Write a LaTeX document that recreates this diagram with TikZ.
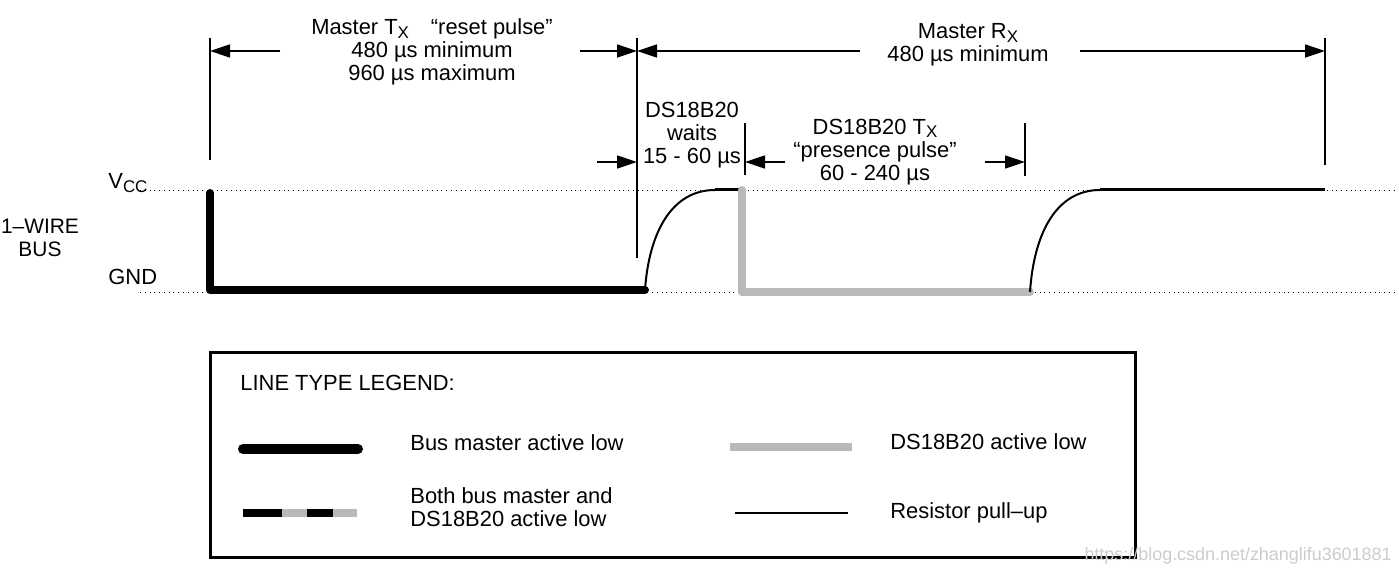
\documentclass[tikz,border=0pt]{standalone}
\usepackage{fontspec}
\setmainfont{Liberation Sans}
\usetikzlibrary{arrows.meta}
\newcommand{\lowsub}[1]{\raisebox{-0.3ex}{\fontsize{8.5}{8.5}\selectfont #1}}

\begin{document}
\begin{tikzpicture}[x=0.5bp, y=-0.5bp,
        lbl/.style={inner sep=0pt, align=center, font=\fontsize{11}{11.5}\selectfont},
        lftlbl/.style={lbl, anchor=west, align=left},
        dimline/.style={line width=0.75bp, -{Triangle[length=10bp,width=6.5bp]}},
        tick/.style={line width=0.75bp},
        level/.style={dotted, line width=0.4bp},
        master/.style={line width=4bp, line cap=round, line join=round},
        slave/.style={line width=4bp, gray!55, line cap=round, line join=round},
        pullup/.style={line width=1bp}
    ]
        \useasboundingbox (0,0) rectangle (1399,575);

        \node[lbl] (txLabel) at (432,52) {Master T\lowsub{X}\quad“reset pulse”\\480 µs minimum\\960 µs maximum};
        \node[lbl] (rxLabel) at (968,45) {Master R\lowsub{X}\\480 µs minimum};
        \node[lbl] (waitLabel) at (692,135) {DS18B20\\waits\\15 - 60 µs};
        \node[lbl] (presLabel) at (875,152) {DS18B20 T\lowsub{X}\\“presence pulse”\\60 - 240 µs};
        \node[lbl, font=\fontsize{10.5}{11.5}\selectfont] (busLabel) at (40,238) {1–WIRE\\BUS};
        \node[lftlbl] (vccLabel) at (108,183) {V\lowsub{CC}};
        \node[lftlbl] (gndLabel) at (108,277) {GND};

        \coordinate (vccLeft) at (140,190);
        \coordinate (vccRight) at (1395,190);
        \coordinate (gndLeft) at (140,292);
        \coordinate (gndRight) at (1395,292);
        \draw[level] (vccLeft) -- (vccRight);
        \draw[level] (gndLeft) -- (gndRight);

        \coordinate (resetTop) at (210,38);
        \coordinate (resetBot) at (210,160);
        \coordinate (releaseTop) at (637,38);
        \coordinate (releaseBot) at (637,258);
        \coordinate (rxEndTop) at (1325,38);
        \coordinate (rxEndBot) at (1325,165);
        \coordinate (presTop) at (745,123);
        \coordinate (presBot) at (745,175);
        \coordinate (presEndTop) at (1025,123);
        \coordinate (presEndBot) at (1025,176);
        \draw[tick] (resetTop) -- (resetBot);
        \draw[tick] (releaseTop) -- (releaseBot);
        \draw[tick] (rxEndTop) -- (rxEndBot);
        \draw[tick] (presTop) -- (presBot);
        \draw[tick] (presEndTop) -- (presEndBot);

        \draw[dimline] (280,51) -- (resetTop |- 0,51);
        \draw[dimline] (580,51) -- (releaseTop |- 0,51);
        \draw[dimline] (860,51) -- (releaseTop |- 0,51);
        \draw[dimline] (1080,51) -- (rxEndTop |- 0,51);
        \draw[dimline] (597,162) -- (releaseTop |- 0,162);
        \draw[dimline] (785,162) -- (presTop |- 0,162);
        \draw[dimline] (985,162) -- (presEndTop |- 0,162);

        \draw[master] (210,193) -- (210,290) -- (645,290);
        \draw[pullup] (645,290) .. controls (649,232) and (672,190) .. (715,190);
        \draw[line width=1.5bp] (715,190) -- (742,190);
        \draw[slave] (742,190) -- (742,292) -- (1030,292);
        \draw[pullup] (1030,292) .. controls (1034,232) and (1057,190) .. (1100,190);
        \draw[line width=1.5bp] (1100,190) -- (1325,190);

        \draw[line width=1.5bp] (210,352) rectangle (1135,557);
        \node[lftlbl] (legTitle) at (240,383) {LINE TYPE LEGEND:};
        \draw[master, line width=5bp] (243,449) -- (358,449);
        \node[lftlbl] (masterLabel) at (410,443) {Bus master active low};
        \draw[slave, line cap=butt] (730,447) -- (852,447);
        \node[lftlbl] (slaveLabel) at (890,442) {DS18B20 active low};
        \draw[slave, line cap=butt] (243,513) -- (357,513);
        \draw[line width=4bp, dash pattern=on 19.5bp off 12.5bp on 13bp off 20bp] (243,513) -- (357,513);
        \node[lftlbl] (bothLabel) at (410,507) {Both bus master and\\DS18B20 active low};
        \draw[pullup] (735,513) -- (848,513);
        \node[lftlbl] (pullLabel) at (890,513) {Resistor pull–up};

        \node[anchor=east, inner sep=0pt, text=gray!40, font=\fontsize{9}{10}\selectfont] (mark) at (1392,556) {https://blog.csdn.net/zhanglifu3601881};
    \end{tikzpicture}
\end{document}
